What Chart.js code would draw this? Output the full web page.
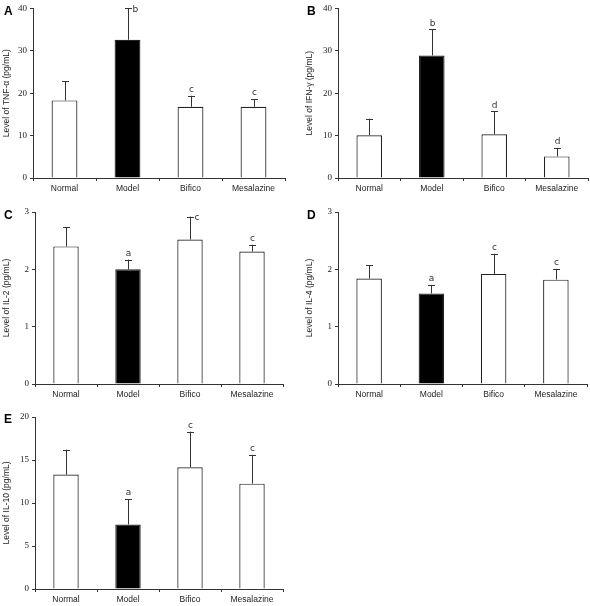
<!DOCTYPE html>
<html>
<head>
<meta charset="utf-8">
<script src="https://cdn.jsdelivr.net/npm/chart.js@4/dist/chart.umd.min.js"></script>
<style>
  html, body { margin: 0; padding: 0; background: #fff; }
  #wrap { position: relative; width: 590px; height: 606px; }
  .panel { position: absolute; }
  .tag { position: absolute; font: bold 12px "Liberation Sans", Arial, sans-serif; color: #000; }
</style>
</head>
<body>
<div id="wrap">
  <div class="panel" style="left:0;top:0;width:295px;height:200px"><canvas id="chartA"></canvas></div>
  <div class="panel" style="left:295px;top:0;width:295px;height:200px"><canvas id="chartB"></canvas></div>
  <div class="panel" style="left:0;top:200px;width:295px;height:200px"><canvas id="chartC"></canvas></div>
  <div class="panel" style="left:295px;top:200px;width:295px;height:200px"><canvas id="chartD"></canvas></div>
  <div class="panel" style="left:0;top:400px;width:295px;height:206px"><canvas id="chartE"></canvas></div>
  <div class="tag" style="left:4px;top:4px">A</div>
  <div class="tag" style="left:307px;top:4px">B</div>
  <div class="tag" style="left:4px;top:208px">C</div>
  <div class="tag" style="left:307px;top:208px">D</div>
  <div class="tag" style="left:4px;top:412px">E</div>
</div>
<script>
// groups on the x axis
const categories = ['Normal', 'Model', 'Bifico', 'Mesalazine'];

// A - TNF-alpha
const tnfMeans = [18.3, 32.6, 16.8, 16.8];
const tnfErrors = [4.5, 7.4, 2.6, 1.8];
const tnfMarks = ['', 'b', 'c', 'c'];
const tnfTicks = [0, 40, 10];

// B - IFN-gamma
const ifnMeans = [10.1, 28.9, 10.3, 5.1];
const ifnErrors = [3.9, 6.2, 5.4, 2.0];
const ifnMarks = ['', 'b', 'd', 'd'];
const ifnTicks = [0, 40, 10];

// C - IL-2
const il2Means = [2.40, 2.00, 2.52, 2.31];
const il2Errors = [0.34, 0.17, 0.40, 0.12];
const il2Marks = ['', 'a', 'c', 'c'];
const il2Ticks = [0, 3, 1];

// D - IL-4
const il4Means = [1.84, 1.58, 1.92, 1.82];
const il4Errors = [0.23, 0.15, 0.35, 0.19];
const il4Marks = ['', 'a', 'c', 'c'];
const il4Ticks = [0, 3, 1];

// E - IL-10
const il10Means = [13.3, 7.5, 14.15, 12.25];
const il10Errors = [2.9, 2.95, 4.15, 3.35];
const il10Marks = ['', 'a', 'c', 'c'];
const il10Ticks = [0, 20, 5];

const axisColor = '#333';

// draws the upper error whisker and the significance letter for each bar
const errorBarPlugin = {
    id: 'errorBars',
    afterDatasetsDraw: function(chart) {
        const opts = chart.options.plugins.errorBars;
        const meta = chart.getDatasetMeta(0);
        const yScale = chart.scales.y;
        const ctx = chart.ctx;
        ctx.save();
        ctx.strokeStyle = '#333';
        ctx.lineWidth = 1;
        meta.data.forEach(function(bar, i) {
            const mean = chart.data.datasets[0].data[i];
            const top = yScale.getPixelForValue(mean + opts.errors[i]);
            const x = Math.round(bar.x) + 0.5;
            ctx.beginPath();
            ctx.moveTo(x, bar.y);
            ctx.lineTo(x, top);
            ctx.moveTo(x - 3.5, Math.round(top) + 0.5);
            ctx.lineTo(x + 3.5, Math.round(top) + 0.5);
            ctx.stroke();
            const mark = opts.marks[i];
            if (mark) {
                ctx.fillStyle = '#333';
                ctx.font = '9px "DejaVu Sans", Verdana, sans-serif';
                ctx.textBaseline = 'middle';
                if (top - 8 < chart.chartArea.top - 2) {
                    ctx.textAlign = 'left';
                    ctx.fillText(mark, x + 4, top + 1);
                } else {
                    ctx.textAlign = 'center';
                    ctx.fillText(mark, x, top - 6);
                }
            }
        });
        ctx.restore();
    }
};

function makeChart(id, means, errors, marks, ticks, title, box) {
    new Chart(document.getElementById(id), {
        type: 'bar',
        data: {
            labels: categories,
            datasets: [{
                data: means,
                backgroundColor: ['#fff', '#000', '#fff', '#fff'],
                borderColor: '#222',
                borderWidth: 1.2,
                barPercentage: 0.41,
                categoryPercentage: 1
            }]
        },
        options: {
            responsive: true,
            maintainAspectRatio: false,
            animation: false,
            layout: { padding: { top: box.top, right: box.right, left: 0, bottom: 0 } },
            plugins: {
                legend: { display: false },
                tooltip: { enabled: false },
                errorBars: { errors: errors, marks: marks }
            },
            scales: {
                x: {
                    offset: true,
                    grid: { display: true, drawOnChartArea: false, offset: true, tickLength: 3, color: axisColor },
                    border: { color: axisColor },
                    ticks: { color: '#222', padding: 3, font: { family: '"Liberation Sans", Arial, sans-serif', size: 8.5 } },
                    afterFit: function(scale) { scale.height = box.bottom; }
                },
                y: {
                    min: ticks[0],
                    max: ticks[1],
                    grid: { display: true, drawOnChartArea: false, tickLength: 3, color: axisColor },
                    border: { color: axisColor },
                    ticks: { stepSize: ticks[2], color: '#222', padding: 3, font: { family: '"Liberation Serif", "Times New Roman", serif', size: 9 } },
                    title: {
                        display: true,
                        text: title,
                        color: '#222',
                        padding: { top: box.titlePad, bottom: 0 },
                        font: { family: '"Liberation Sans", Arial, sans-serif', size: 8.5 }
                    },
                    afterFit: function(scale) { scale.width = box.left; }
                }
            }
        },
        plugins: [errorBarPlugin]
    });
}

makeChart('chartA', tnfMeans, tnfErrors, tnfMarks, tnfTicks, 'Level of TNF-\u03b1 (pg/mL)',
    { left: 33, top: 7, right: 10, bottom: 22, titlePad: 2 });
makeChart('chartB', ifnMeans, ifnErrors, ifnMarks, ifnTicks, 'Level of IFN-\u03b3 (pg/mL)',
    { left: 43, top: 7, right: 2, bottom: 22, titlePad: 10 });
makeChart('chartC', il2Means, il2Errors, il2Marks, il2Ticks, 'Level of IL-2 (pg/mL)',
    { left: 35, top: 12, right: 12, bottom: 16, titlePad: 2 });
makeChart('chartD', il4Means, il4Errors, il4Marks, il4Ticks, 'Level of IL-4 (pg/mL)',
    { left: 43, top: 12, right: 3, bottom: 16, titlePad: 10 });
makeChart('chartE', il10Means, il10Errors, il10Marks, il10Ticks, 'Level of IL-10 (pg/mL)',
    { left: 35, top: 17, right: 12, bottom: 17, titlePad: 2 });
</script>
</body>
</html>
